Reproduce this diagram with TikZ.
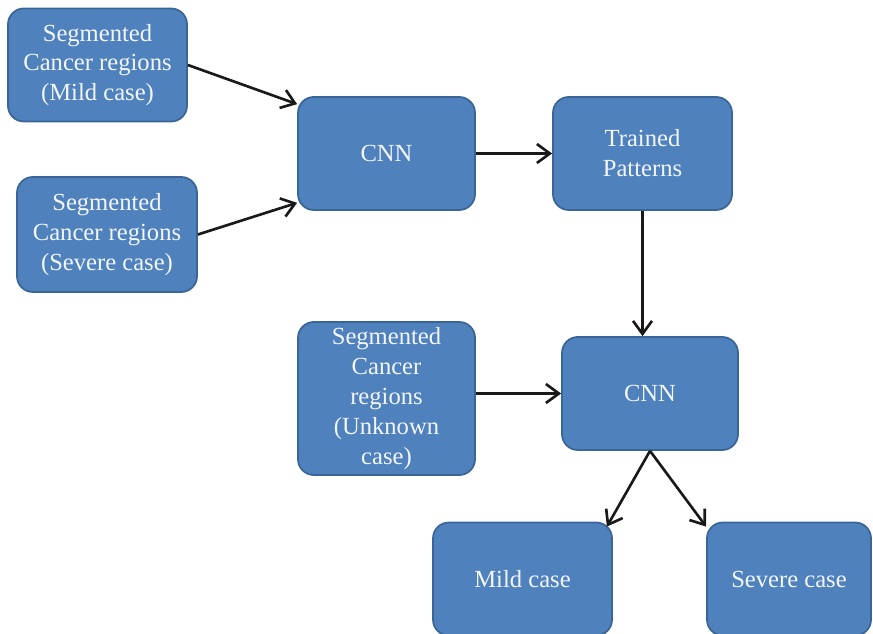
\documentclass[tikz,border=0pt]{standalone}
\usepackage{fontspec}
\setmainfont{Liberation Serif}
\usepackage{xcolor}
\definecolor{boxfill}{HTML}{4F81BD}
\definecolor{boxline}{HTML}{3A6597}
\definecolor{boxtext}{HTML}{F2F6FB}
\usetikzlibrary{arrows.meta,calc}
\tikzset{
  every picture/.style={font=\fontsize{14}{17}\selectfont},
  block/.style={draw=boxline, fill=boxfill, text=boxtext, rounded corners=9pt, line width=1pt, align=center, inner sep=2pt, minimum width=#1, minimum height=2.26cm},
  block/.default=3.54cm,
  arrow/.style={-{Straight Barb[length=2.6mm,width=3.8mm]}, line width=1.5pt, draw=black!90},
}

\begin{document}
\begin{tikzpicture}
  \useasboundingbox (0,0) rectangle (17.46,-12.68);

  % training inputs
  \node[block=3.58cm] (mildin) at (1.95,-1.30) {Segmented\\Cancer regions\\(Mild case)};
  \node[block=3.6cm, minimum height=2.3cm] (severein) at (2.14,-4.69) {Segmented\\Cancer regions\\(Severe case)};

  \node[block] (cnn1) at (7.73,-3.07) {CNN};
  \node[block=3.58cm] (trained) at (12.85,-3.07) {Trained\\Patterns};

  % testing
  \node[block, minimum height=3.06cm] (unknown) at (7.73,-7.97) {Segmented\\Cancer\\regions\\(Unknown\\case)};
  \node[block=3.52cm] (cnn2) at (13.0,-7.87) {CNN};

  \node[block=3.58cm] (mild) at (10.45,-11.58) {Mild case};
  \node[block=3.28cm] (severe) at (15.78,-11.58) {Severe case};

  \draw[arrow] (mildin.east) -- ($(cnn1.north west)!0.07!(cnn1.south west)$);
  \draw[arrow] (severein.east) -- ($(cnn1.north west)!0.93!(cnn1.south west)$);
  \draw[arrow] (cnn1) -- (trained);
  \draw[arrow] (trained.south) -- (trained.south |- cnn2.north);
  \draw[arrow] (unknown.east |- cnn2.west) -- (cnn2.west);
  \draw[arrow] (cnn2.south) -- ($(mild.north east)+(-0.12,-0.1)$);
  \draw[arrow] (cnn2.south) -- ($(severe.north west)+(0,-0.1)$);
\end{tikzpicture}
\end{document}
